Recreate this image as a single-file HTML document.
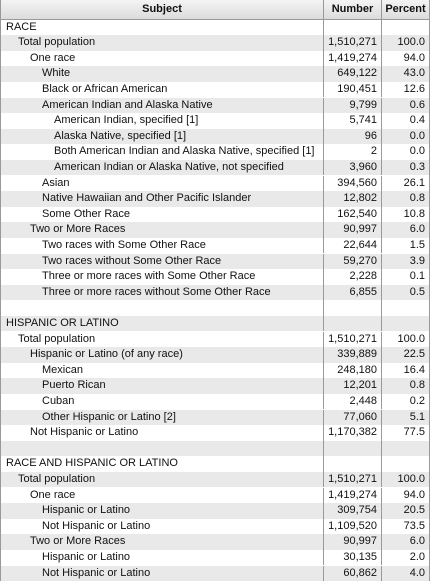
<!DOCTYPE html>
<html><head><meta charset="utf-8">
<style>
html,body{margin:0;padding:0;background:#fff;}
body{width:430px;height:581px;overflow:hidden;font-family:"Liberation Sans",Arial,sans-serif;font-size:11px;color:#111;}
#tbl{position:absolute;left:0;top:0;width:428px;height:581px;border-left:1px solid #999;border-right:1px solid #999;box-sizing:content-box;}
.hdr{position:absolute;left:0;top:0;width:428px;height:19px;background:linear-gradient(#f4f4f4,#dcdcdc);border-bottom:1px solid #999;font-weight:bold;}
.row{position:absolute;left:0;width:428px;height:15.6px;line-height:15.6px;}
.g{background:#e9e9e9;}
.c1{position:absolute;left:0;width:322px;white-space:nowrap;overflow:hidden;}
.c2{position:absolute;left:322px;width:58px;text-align:right;border-left:1px solid #999;box-sizing:border-box;padding-right:4px;height:100%;}
.c3{position:absolute;left:380px;width:48px;text-align:right;border-left:1px solid #999;box-sizing:border-box;padding-right:4px;height:100%;}
.hdr .c1{text-align:center;line-height:19px;}
.hdr .c2,.hdr .c3{text-align:center;line-height:19px;padding:0;}
</style></head><body>
<div id="tbl">
<div class="hdr">
<div class="c1">Subject</div>
<div class="c2">Number</div>
<div class="c3">Percent</div>
</div>
<div id="rows"></div>
</div>
<script>
const labels=["RACE","Total population","One race","White","Black or African American","American Indian and Alaska Native","American Indian, specified [1]","Alaska Native, specified [1]","Both American Indian and Alaska Native, specified [1]","American Indian or Alaska Native, not specified","Asian","Native Hawaiian and Other Pacific Islander","Some Other Race","Two or More Races","Two races with Some Other Race","Two races without Some Other Race","Three or more races with Some Other Race","Three or more races without Some Other Race","","HISPANIC OR LATINO","Total population","Hispanic or Latino (of any race)","Mexican","Puerto Rican","Cuban","Other Hispanic or Latino [2]","Not Hispanic or Latino","","RACE AND HISPANIC OR LATINO","Total population","One race","Hispanic or Latino","Not Hispanic or Latino","Two or More Races","Hispanic or Latino","Not Hispanic or Latino"];
const levels=[0,1,2,3,3,3,4,4,4,4,3,3,3,2,3,3,3,3,0,0,1,2,3,3,3,3,2,0,0,1,2,3,3,2,3,3];
const numbers=["","1,510,271","1,419,274","649,122","190,451","9,799","5,741","96","2","3,960","394,560","12,802","162,540","90,997","22,644","59,270","2,228","6,855","","","1,510,271","339,889","248,180","12,201","2,448","77,060","1,170,382","","","1,510,271","1,419,274","309,754","1,109,520","90,997","30,135","60,862"];
const percents=["","100.0","94.0","43.0","12.6","0.6","0.4","0.0","0.0","0.3","26.1","0.8","10.8","6.0","1.5","3.9","0.1","0.5","","","100.0","22.5","16.4","0.8","0.2","5.1","77.5","","","100.0","94.0","20.5","73.5","6.0","2.0","4.0"];
const host=document.getElementById('rows');
const top0=19.5,pitch=15.6;
labels.forEach((l,i)=>{
  const r=document.createElement('div');
  r.className='row'+(i%2?' g':'');
  r.style.top=(top0+i*pitch)+'px';
  
  
  const a=document.createElement('div');a.className='c1';a.style.paddingLeft=(5+12*levels[i])+'px';a.textContent=l;
  
  
  const b=document.createElement('div');b.className='c2';b.textContent=numbers[i];
  
  
  const c=document.createElement('div');c.className='c3';c.textContent=percents[i];
  
  
  r.appendChild(a);r.appendChild(b);r.appendChild(c);host.appendChild(r);
});
</script>
</body></html>
